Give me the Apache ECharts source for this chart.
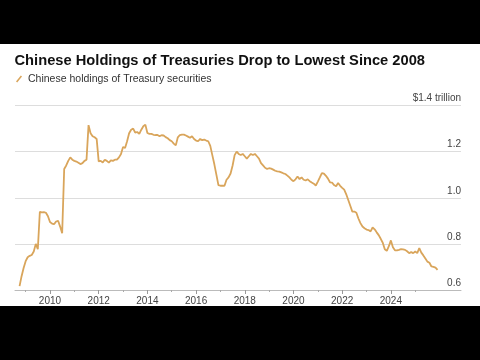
<!DOCTYPE html>
<html>
<head>
<meta charset="utf-8">
<script src="https://cdn.jsdelivr.net/npm/echarts@6/dist/echarts.min.js"></script>
<style>
html,body{margin:0;padding:0;background:#fff;}
#chart{width:480px;height:360px;}
</style>
</head>
<body>
<div id="chart"></div>
<script>
// Monthly series, first month = Sep 2008 (month-end), last = Nov 2025
const startYear = 2008, startMonth = 9;
const holdings = [
  // 2008 Sep-Dec
  0.617, 0.66, 0.695, 0.725,
  // 2009
  0.742, 0.748, 0.752, 0.767, 0.80, 0.777, 0.939, 0.937, 0.938, 0.935, 0.92, 0.895,
  // 2010
  0.888, 0.885, 0.897, 0.90, 0.875, 0.846, 1.125, 1.14, 1.16, 1.175, 1.165, 1.16,
  // 2011
  1.157, 1.152, 1.146, 1.15, 1.16, 1.165, 1.315, 1.28, 1.267, 1.262, 1.255, 1.158,
  // 2012
  1.16, 1.153, 1.165, 1.16, 1.152, 1.162, 1.16, 1.165, 1.165, 1.175, 1.19, 1.22,
  // 2013
  1.216, 1.245, 1.28, 1.295, 1.30, 1.282, 1.285, 1.277, 1.295, 1.31, 1.317, 1.281,
  // 2014
  1.277, 1.277, 1.273, 1.272, 1.272, 1.267, 1.271, 1.27, 1.263, 1.258, 1.25, 1.245,
  // 2015
  1.235, 1.227, 1.262, 1.272, 1.274, 1.274, 1.27, 1.265, 1.26, 1.267, 1.255, 1.248,
  // 2016
  1.245, 1.255, 1.25, 1.252, 1.248, 1.245, 1.225, 1.185, 1.145, 1.10, 1.055, 1.052,
  // 2017
  1.053, 1.052, 1.078, 1.088, 1.105, 1.14, 1.185, 1.20, 1.19, 1.185, 1.19, 1.18,
  // 2018
  1.17, 1.18, 1.19, 1.185, 1.19, 1.18, 1.17, 1.15, 1.14, 1.13, 1.125, 1.128,
  // 2019
  1.126, 1.122, 1.117, 1.114, 1.113, 1.11, 1.106, 1.103, 1.096, 1.088, 1.078, 1.072,
  // 2020
  1.08, 1.092, 1.081, 1.088, 1.078, 1.075, 1.08, 1.072, 1.066, 1.061, 1.053, 1.07,
  // 2021
  1.088, 1.107, 1.105, 1.095, 1.083, 1.067, 1.066, 1.055, 1.05, 1.064, 1.052, 1.043,
  // 2022
  1.035, 1.015, 0.99, 0.965, 0.94, 0.94, 0.935, 0.91, 0.89, 0.875, 0.868, 0.862,
  // 2023
  0.86, 0.854, 0.871, 0.863, 0.85, 0.838, 0.822, 0.805, 0.777, 0.77, 0.79, 0.815,
  // 2024
  0.785, 0.772, 0.772, 0.774, 0.777, 0.776, 0.774, 0.768, 0.76, 0.764, 0.76, 0.767,
  // 2025 Jan-Nov
  0.76, 0.782, 0.762, 0.75, 0.737, 0.723, 0.718, 0.702, 0.70, 0.697, 0.687
];
const yearLabels = [2010, 2012, 2014, 2016, 2018, 2020, 2022, 2024];
const minorYears = [2009, 2011, 2013, 2015, 2017, 2019, 2021, 2023, 2025];
const yTicks = [0.6, 0.8, 1.0, 1.2, 1.4];
const yTickLabels = ['0.6', '0.8', '1.0', '1.2', '$1.4 trillion'];

const titleText = 'Chinese Holdings of Treasuries Drop to Lowest Since 2008';
const seriesName = 'Chinese holdings of Treasury securities';

const seriesData = holdings.map((v, i) => [startYear + (startMonth + i) / 12, v]);

const FONT = '"Liberation Sans", Arial, Helvetica, sans-serif';
const xMin = 2008.563, xMax = 2026.88;

const chart = echarts.init(document.getElementById('chart'), null, {renderer: 'canvas'});
chart.setOption({
  animation: false,
  backgroundColor: '#fff',
  textStyle: {fontFamily: FONT},
  title: {
    text: titleText,
    left: 14.5,
    top: 53,
    padding: 0,
    textStyle: {fontFamily: FONT, fontSize: 14.7, fontWeight: 'bold', color: '#111'}
  },
  legend: {
    left: 16,
    top: 73.5,
    padding: 0,
    itemWidth: 8,
    itemHeight: 7,
    icon: 'path://M0,10 L8,0 L10,1.6 L2,11.6 Z',
    textStyle: {fontFamily: FONT, fontSize: 10.5, color: '#333'},
    data: [seriesName]
  },
  graphic: [
    {type: 'rect', shape: {x: 0, y: 0, width: 480, height: 44}, style: {fill: '#000'}, z: 100},
    {type: 'rect', shape: {x: 0, y: 306, width: 480, height: 54}, style: {fill: '#000'}, z: 100}
  ],
  grid: {left: 15, right: 19, top: 105.5, bottom: 70},
  xAxis: [
    {
      type: 'value', min: xMin, max: xMax,
      axisLine: {show: true, lineStyle: {color: '#bbb', width: 1}},
      axisTick: {show: true, customValues: yearLabels, length: 4, lineStyle: {color: '#999'}},
      axisLabel: {customValues: yearLabels, formatter: v => String(v), fontFamily: FONT, fontSize: 10, color: '#444', margin: 6},
      splitLine: {show: false}
    },
    {
      type: 'value', min: xMin, max: xMax, position: 'bottom',
      axisLine: {show: false},
      axisTick: {show: true, customValues: minorYears, length: 2, lineStyle: {color: '#aaa'}},
      axisLabel: {show: false},
      splitLine: {show: false}
    }
  ],
  yAxis: {
    type: 'value', min: 0.6, max: 1.4, interval: 0.2, position: 'right',
    axisLine: {show: false},
    axisTick: {show: false},
    splitLine: {show: true, lineStyle: {color: '#ddd', width: 1}},
    axisLabel: {
      inside: true, margin: 0, verticalAlign: 'bottom', padding: [0, 0, 2, 0],
      fontFamily: FONT, fontSize: 10, color: '#444',
      formatter: v => {
        const idx = yTicks.findIndex(t => Math.abs(t - v) < 1e-6);
        return idx >= 0 ? yTickLabels[idx] : '';
      }
    }
  },
  series: [{
    name: seriesName,
    type: 'line',
    xAxisIndex: 0,
    data: seriesData,
    showSymbol: false,
    smooth: false,
    lineStyle: {color: '#d9a55b', width: 1.8},
    itemStyle: {color: '#d9a55b'}
  }]
});
</script>
</body>
</html>
